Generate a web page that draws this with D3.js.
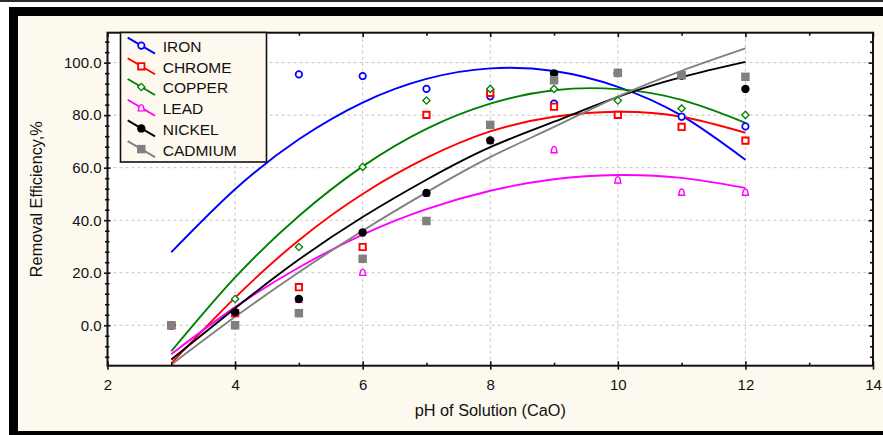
<!DOCTYPE html>
<html>
<head>
<meta charset="utf-8">
<script src="https://cdn.jsdelivr.net/npm/d3@7"></script>
<style>
  html, body { margin: 0; padding: 0; background: #ffffff; }
  svg { display: block; }
  text { font-family: "Liberation Sans", Arial, sans-serif; fill: #111; }
</style>
</head>
<body>
<svg id="chart" width="883" height="435"></svg>
<script>
// pH values at which removal was measured
const phValues = [3, 4, 5, 6, 7, 8, 9, 10, 11, 12];

// measured removal efficiency (%) per metal
const iron    = [0, 0, 95.5, 94.9, 90.0, 87.2, 84.4, 96.0, 79.4, 75.7];
const chrome  = [0, 4.6, 14.5, 29.8, 80.1, 88.5, 83.2, 80.1, 75.5, 70.3];
const copper  = [0, 10.0, 29.8, 60.3, 85.6, 90.0, 90.0, 85.6, 82.5, 80.1];
const lead    = [0, 5.0, 10.0, 20.2, 50.4, 70.4, 66.9, 55.4, 50.7, 50.7];
const nickel  = [0, 5.0, 10.0, 35.3, 50.4, 70.4, 95.9, 96.1, 95.0, 90.0];
const cadmium = [0, 0, 4.6, 25.3, 39.7, 76.3, 93.3, 96.1, 95.2, 94.6];

// fitted trend curves (%) at the same pH values
const ironFit    = [27.8, 51.8, 70.8, 84.8, 93.8, 97.8, 96.8, 90.8, 79.8, 63.0];
const chromeFit  = [-14.5, 10.5, 32.4, 50.0, 63.7, 73.8, 79.4, 81.3, 79.4, 73.3];
const copperFit  = [-9.9, 18.2, 41.6, 60.5, 74.8, 84.4, 89.5, 89.9, 85.8, 77.1];
const leadFit    = [-11.0, 6.9, 22.0, 34.5, 44.2, 51.2, 55.6, 57.2, 56.1, 52.3];
const nickelFit  = [-13.0, 6.5, 25.0, 41.2, 55.4, 67.8, 77.5, 87.0, 94.5, 100.3];
const cadmiumFit = [-15.0, 3.2, 20.2, 36.0, 50.6, 64.0, 75.5, 87.1, 96.9, 105.4];

const seriesNames = ["IRON", "CHROME", "COPPER", "LEAD", "NICKEL", "CADMIUM"];

// axis ticks
const xMajorTicks = [2, 4, 6, 8, 10, 12, 14];
const xMinorTicks = [3, 5, 7, 9, 11, 13];
const yMajorTicks = [0, 20, 40, 60, 80, 100];
const yMinorTicks = [-12, -8, -4, 4, 8, 12, 16, 24, 28, 32, 36, 44, 48, 52, 56, 64, 68, 72, 76, 84, 88, 92, 96, 104, 108];

// small arch-topped triangle used for the lead markers
const symbolArch = {
  draw(context, size) {
    const s = Math.sqrt(size) / 5;
    context.moveTo(-3 * s, 3.2 * s);
    context.lineTo(-2 * s, -1.6 * s);
    context.quadraticCurveTo(0, -4.6 * s, 2 * s, -1.6 * s);
    context.lineTo(3 * s, 3.2 * s);
    context.closePath();
  }
};

const series = [
  { name: seriesNames[0], values: iron,    fit: ironFit,    color: "#0000ff", symbol: d3.symbolCircle, size: 33, filled: false, sw: 1.7 },
  { name: seriesNames[1], values: chrome,  fit: chromeFit,  color: "#ff0000", symbol: d3.symbolSquare, size: 40, filled: false, sw: 1.9 },
  { name: seriesNames[2], values: copper,  fit: copperFit,  color: "#008000", symbol: d3.symbolSquare, size: 26, filled: false, sw: 1.3, rotate: 45 },
  { name: seriesNames[3], values: lead,    fit: leadFit,    color: "#ff00ff", symbol: symbolArch,     size: 25, filled: false, sw: 1.4 },
  { name: seriesNames[4], values: nickel,  fit: nickelFit,  color: "#000000", symbol: d3.symbolCircle, size: 56, filled: true,  sw: 0 },
  { name: seriesNames[5], values: cadmium, fit: cadmiumFit, color: "#808080", symbol: d3.symbolSquare, size: 72, filled: true,  sw: 0 }
];

const svg = d3.select("#chart");

// outer frame
svg.append("rect").attr("x", 0).attr("y", 0).attr("width", 883).attr("height", 2).attr("fill", "#2a2a2a");
svg.append("rect").attr("x", 9).attr("y", 7).attr("width", 874).attr("height", 428).attr("fill", "#000");
svg.append("rect").attr("x", 18).attr("y", 16).attr("width", 865).attr("height", 415).attr("fill", "#fdf9ef");

const plot = { left: 107.5, right: 873, top: 32.7, bottom: 365.7 };

const x = d3.scaleLinear().domain([2, 14]).range([plot.left, plot.right]);
const y = d3.scaleLinear().domain([-15.4, 111.4]).range([plot.bottom, plot.top]);

// plot background
svg.append("rect")
  .attr("x", plot.left).attr("y", plot.top)
  .attr("width", plot.right - plot.left).attr("height", plot.bottom - plot.top)
  .attr("fill", "#ffffff");

// dashed grid
const grid = svg.append("g").attr("stroke", "#c4c4c4").attr("stroke-width", 1).attr("stroke-dasharray", "3,3");
grid.selectAll("line.gx").data(xMajorTicks.filter(d => d > 2 && d < 14)).join("line")
  .attr("x1", d => x(d)).attr("x2", d => x(d)).attr("y1", plot.top).attr("y2", plot.bottom);
grid.selectAll("line.gy").data(yMajorTicks).join("line")
  .attr("x1", plot.left).attr("x2", plot.right).attr("y1", d => y(d)).attr("y2", d => y(d));

// fitted curves
const line = d3.line().x(d => x(d[0])).y(d => y(d[1])).curve(d3.curveNatural);
series.forEach(s => {
  svg.append("path")
    .datum(phValues.map((p, i) => [p, s.fit[i]]))
    .attr("d", line)
    .attr("fill", "none")
    .attr("stroke", s.color)
    .attr("stroke-width", 1.9);
});

// measured points
function drawMarker(g, s, cx, cy) {
  g.append("path")
    .attr("d", d3.symbol().type(s.symbol).size(s.size)())
    .attr("transform", `translate(${cx},${cy})` + (s.rotate ? ` rotate(${s.rotate})` : ""))
    .attr("fill", s.filled ? s.color : "#ffffff")
    .attr("stroke", s.filled ? "none" : s.color)
    .attr("stroke-width", s.sw);
}
series.forEach(s => {
  const g = svg.append("g");
  phValues.forEach((p, i) => drawMarker(g, s, x(p), y(s.values[i])));
});

// axes: ticks drawn with the axis generators, labels on bottom/left
function styleAxis(g) {
  g.select(".domain").remove();
  g.selectAll(".tick line").attr("stroke", "#111").attr("stroke-width", 1.6);
}
const noLabel = () => "";

// bottom
svg.append("g").attr("transform", `translate(0,${plot.bottom})`)
  .call(d3.axisBottom(x).tickValues(xMajorTicks).tickSize(4).tickPadding(9.5).tickFormat(d3.format("d")))
  .call(styleAxis)
  .call(g => g.selectAll("text").attr("font-size", 15).attr("fill", "#111")
    .style("font-family", '"Liberation Sans", Arial, sans-serif'));
svg.append("g").attr("transform", `translate(0,${plot.bottom})`)
  .call(d3.axisBottom(x).tickValues(xMajorTicks).tickSize(-4.5).tickFormat(noLabel)).call(styleAxis);
svg.append("g").attr("transform", `translate(0,${plot.bottom})`)
  .call(d3.axisBottom(x).tickValues(xMinorTicks).tickSize(-3).tickFormat(noLabel)).call(styleAxis);

// top
svg.append("g").attr("transform", `translate(0,${plot.top})`)
  .call(d3.axisTop(x).tickValues(xMajorTicks).tickSize(-4.5).tickFormat(noLabel)).call(styleAxis);
svg.append("g").attr("transform", `translate(0,${plot.top})`)
  .call(d3.axisTop(x).tickValues(xMinorTicks).tickSize(-3).tickFormat(noLabel)).call(styleAxis);

// left
svg.append("g").attr("transform", `translate(${plot.left},0)`)
  .call(d3.axisLeft(y).tickValues(yMajorTicks).tickSize(3.5).tickPadding(2.5).tickFormat(d3.format(".1f")))
  .call(styleAxis)
  .call(g => g.selectAll("text").attr("font-size", 15).attr("fill", "#111")
    .style("font-family", '"Liberation Sans", Arial, sans-serif'));
svg.append("g").attr("transform", `translate(${plot.left},0)`)
  .call(d3.axisLeft(y).tickValues(yMajorTicks).tickSize(-3).tickFormat(noLabel)).call(styleAxis);
svg.append("g").attr("transform", `translate(${plot.left},0)`)
  .call(d3.axisLeft(y).tickValues(yMinorTicks).tickSize(2.5).tickFormat(noLabel)).call(styleAxis);
svg.append("g").attr("transform", `translate(${plot.left},0)`)
  .call(d3.axisLeft(y).tickValues(yMinorTicks).tickSize(-2).tickFormat(noLabel)).call(styleAxis);

// right
svg.append("g").attr("transform", `translate(${plot.right},0)`)
  .call(d3.axisRight(y).tickValues(yMajorTicks).tickSize(-4.5).tickFormat(noLabel)).call(styleAxis);
svg.append("g").attr("transform", `translate(${plot.right},0)`)
  .call(d3.axisRight(y).tickValues(yMinorTicks).tickSize(-3).tickFormat(noLabel)).call(styleAxis);

// plot border
svg.append("rect")
  .attr("x", plot.left).attr("y", plot.top)
  .attr("width", plot.right - plot.left).attr("height", plot.bottom - plot.top)
  .attr("fill", "none").attr("stroke", "#111").attr("stroke-width", 2);

// axis titles
svg.append("text")
  .attr("x", (plot.left + plot.right) / 2).attr("y", 416)
  .attr("text-anchor", "middle").attr("font-size", 16.3)
  .text("pH of Solution (CaO)");
svg.append("text")
  .attr("transform", `translate(41.5,${(plot.top + plot.bottom) / 2}) rotate(-90)`)
  .attr("text-anchor", "middle").attr("font-size", 16.3)
  .text("Removal Efficiency,%");

// legend
const legend = svg.append("g");
legend.append("rect")
  .attr("x", 120.5).attr("y", 32.5).attr("width", 146).attr("height", 129.5)
  .attr("fill", "#fdf9ef").attr("stroke", "#111").attr("stroke-width", 1.6);
series.forEach((s, i) => {
  const cy = 45.6 + i * 20.7;
  legend.append("line")
    .attr("x1", 127.7).attr("y1", cy - 8).attr("x2", 155).attr("y2", cy + 8)
    .attr("stroke", s.color).attr("stroke-width", 1.9);
  drawMarker(legend, s, 141.3, cy);
  legend.append("text")
    .attr("x", 162.7).attr("y", cy + 6.4)
    .attr("font-size", 15.5)
    .text(s.name);
});
</script>
</body>
</html>
